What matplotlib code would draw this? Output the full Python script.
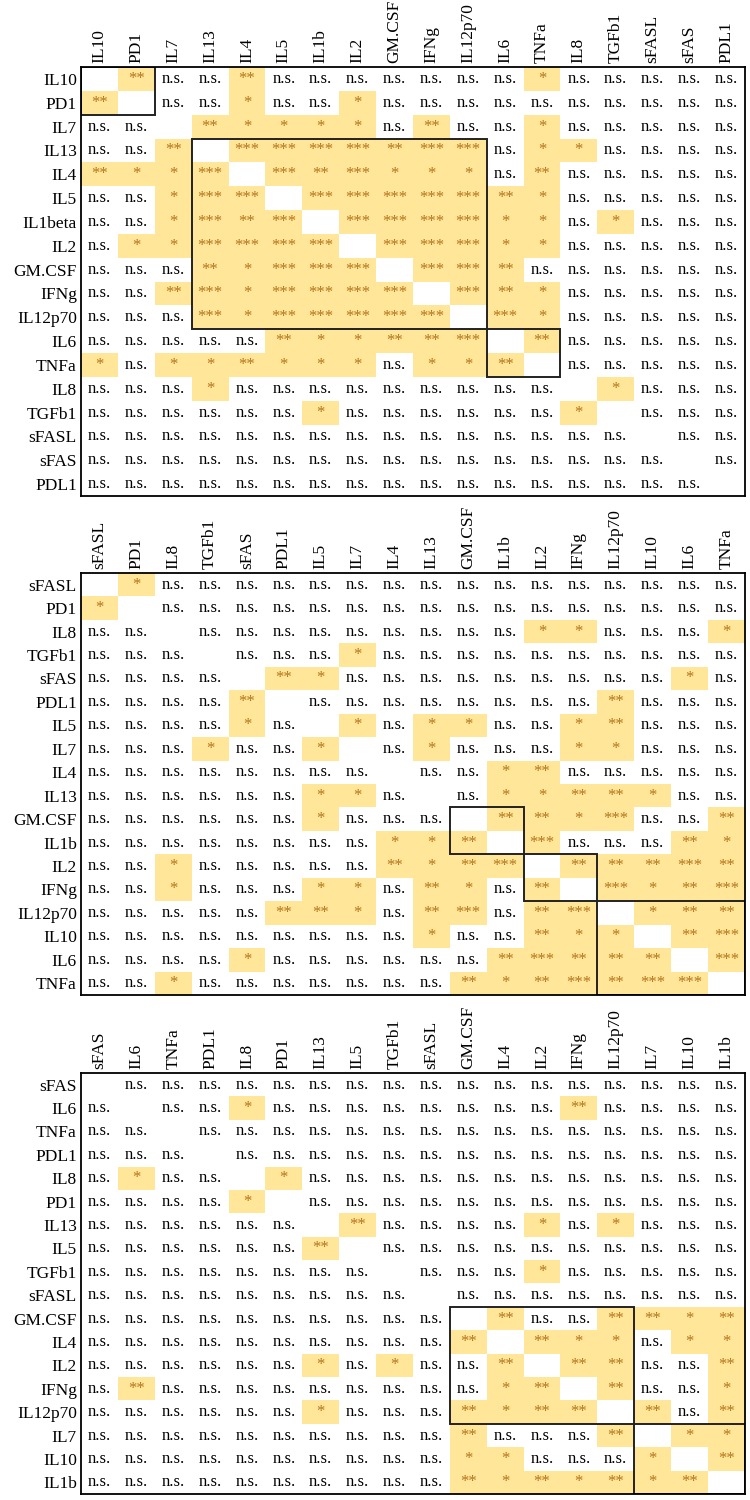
import numpy as np
import matplotlib.pyplot as plt
from matplotlib.patches import Rectangle

plt.rcParams['font.family'] = ['Liberation Serif', 'DejaVu Serif']

# codes: "-" diagonal, "n" not significant, 1/2/3 = number of stars

cols1 = ["IL10", "PD1", "IL7", "IL13", "IL4", "IL5", "IL1b", "IL2", "GM.CSF",
         "IFNg", "IL12p70", "IL6", "TNFa", "IL8", "TGFb1", "sFASL", "sFAS", "PDL1"]
rows1 = ["IL10", "PD1", "IL7", "IL13", "IL4", "IL5", "IL1beta", "IL2", "GM.CSF",
         "IFNg", "IL12p70", "IL6", "TNFa", "IL8", "TGFb1", "sFASL", "sFAS", "PDL1"]
sig1 = [
    "- 2 n n 2 n n n n n n n 1 n n n n n",
    "2 - n n 1 n n 1 n n n n n n n n n n",
    "n n - 2 1 1 1 1 n 2 n n 1 n n n n n",
    "n n 2 - 3 3 3 3 2 3 3 n 1 1 n n n n",
    "2 1 1 3 - 3 2 3 1 1 1 n 2 n n n n n",
    "n n 1 3 3 - 3 3 3 3 3 2 1 n n n n n",
    "n n 1 3 2 3 - 3 3 3 3 1 1 n 1 n n n",
    "n 1 1 3 3 3 3 - 3 3 3 1 1 n n n n n",
    "n n n 2 1 3 3 3 - 3 3 2 n n n n n n",
    "n n 2 3 1 3 3 3 3 - 3 2 1 n n n n n",
    "n n n 3 1 3 3 3 3 3 - 3 1 n n n n n",
    "n n n n n 2 1 1 2 2 3 - 2 n n n n n",
    "1 n 1 1 2 1 1 1 n 1 1 2 - n n n n n",
    "n n n 1 n n n n n n n n n - 1 n n n",
    "n n n n n n 1 n n n n n n 1 - n n n",
    "n n n n n n n n n n n n n n n - n n",
    "n n n n n n n n n n n n n n n n - n",
    "n n n n n n n n n n n n n n n n n -",
]
clusters1 = [(0, 2), (3, 11), (11, 13)]

cols2 = ["sFASL", "PD1", "IL8", "TGFb1", "sFAS", "PDL1", "IL5", "IL7", "IL4",
         "IL13", "GM.CSF", "IL1b", "IL2", "IFNg", "IL12p70", "IL10", "IL6", "TNFa"]
rows2 = cols2
sig2 = [
    "- 1 n n n n n n n n n n n n n n n n",
    "1 - n n n n n n n n n n n n n n n n",
    "n n - n n n n n n n n n 1 1 n n n 1",
    "n n n - n n n 1 n n n n n n n n n n",
    "n n n n - 2 1 n n n n n n n n n 1 n",
    "n n n n 2 - n n n n n n n n 2 n n n",
    "n n n n 1 n - 1 n 1 1 n n 1 2 n n n",
    "n n n 1 n n 1 - n 1 n n n 1 1 n n n",
    "n n n n n n n n - n n 1 2 n n n n n",
    "n n n n n n 1 1 n - n 1 1 2 2 1 n n",
    "n n n n n n 1 n n n - 2 2 1 3 n n 2",
    "n n n n n n n n 1 1 2 - 3 n n n 2 1",
    "n n 1 n n n n n 2 1 2 3 - 2 2 2 3 2",
    "n n 1 n n n 1 1 n 2 1 n 2 - 3 1 2 3",
    "n n n n n 2 2 1 n 2 3 n 2 3 - 1 2 2",
    "n n n n n n n n n 1 n n 2 1 1 - 2 3",
    "n n n n 1 n n n n n n 2 3 2 2 2 - 3",
    "n n 1 n n n n n n n 2 1 2 3 2 3 3 -",
]
clusters2 = [(10, 12), (12, 14), (14, 18)]

cols3 = ["sFAS", "IL6", "TNFa", "PDL1", "IL8", "PD1", "IL13", "IL5", "TGFb1",
         "sFASL", "GM.CSF", "IL4", "IL2", "IFNg", "IL12p70", "IL7", "IL10", "IL1b"]
rows3 = cols3
sig3 = [
    "- n n n n n n n n n n n n n n n n n",
    "n - n n 1 n n n n n n n n 2 n n n n",
    "n n - n n n n n n n n n n n n n n n",
    "n n n - n n n n n n n n n n n n n n",
    "n 1 n n - 1 n n n n n n n n n n n n",
    "n n n n 1 - n n n n n n n n n n n n",
    "n n n n n n - 2 n n n n 1 n 1 n n n",
    "n n n n n n 2 - n n n n n n n n n n",
    "n n n n n n n n - n n n 1 n n n n n",
    "n n n n n n n n n - n n n n n n n n",
    "n n n n n n n n n n - 2 n n 2 2 1 2",
    "n n n n n n n n n n 2 - 2 1 1 n 1 1",
    "n n n n n n 1 n 1 n n 2 - 2 2 n n 2",
    "n 2 n n n n n n n n n 1 2 - 2 n n 1",
    "n n n n n n 1 n n n 2 1 2 2 - 2 n 2",
    "n n n n n n n n n n 2 n n n 2 - 1 1",
    "n n n n n n n n n n 1 1 n n n 1 - 2",
    "n n n n n n n n n n 2 1 2 1 2 1 2 -",
]
clusters3 = [(10, 15), (15, 18)]

yellow = "#FFE699"
star_col = "#B5741A"


def draw(ax, cols, rows, sig, clusters):
    n = len(cols)
    for i, line in enumerate(sig):
        for j, c in enumerate(line.split()):
            if c in "123":
                ax.add_patch(Rectangle((j, i), 1, 1, facecolor=yellow,
                                       edgecolor="none", zorder=1))
                ax.text(j + 0.5, i + 0.5, "*" * int(c), ha="center",
                        va="center", fontsize=12, color=star_col, zorder=3)
            elif c == "n":
                ax.text(j + 0.5, i + 0.5, "n.s.", ha="center", va="center",
                        fontsize=12, color="black", zorder=3)
    for a, b in clusters:
        ax.add_patch(Rectangle((a, a), b - a, b - a, facecolor="none",
                               edgecolor="#222222", lw=1.4, zorder=4))
    ax.set_xlim(0, n)
    ax.set_ylim(n, 0)
    ax.set_xticks(np.arange(n) + 0.5)
    ax.set_xticklabels(cols, rotation=90, fontsize=12.5)
    ax.set_yticks(np.arange(n) + 0.5)
    ax.set_yticklabels(rows, fontsize=12.5)
    ax.xaxis.tick_top()
    ax.tick_params(length=0, pad=3)
    for s in ax.spines.values():
        s.set_linewidth(1.3)
        s.set_zorder(5)


fig = plt.figure(figsize=(7.5, 15), dpi=100)
ax1 = fig.add_axes([0.108, 0.6693, 0.885, 0.286])
ax2 = fig.add_axes([0.108, 0.3367, 0.885, 0.2813])
ax3 = fig.add_axes([0.108, 0.004, 0.885, 0.2807])

draw(ax1, cols1, rows1, sig1, clusters1)
draw(ax2, cols2, rows2, sig2, clusters2)
draw(ax3, cols3, rows3, sig3, clusters3)

fig.savefig("out.png", dpi=100)
